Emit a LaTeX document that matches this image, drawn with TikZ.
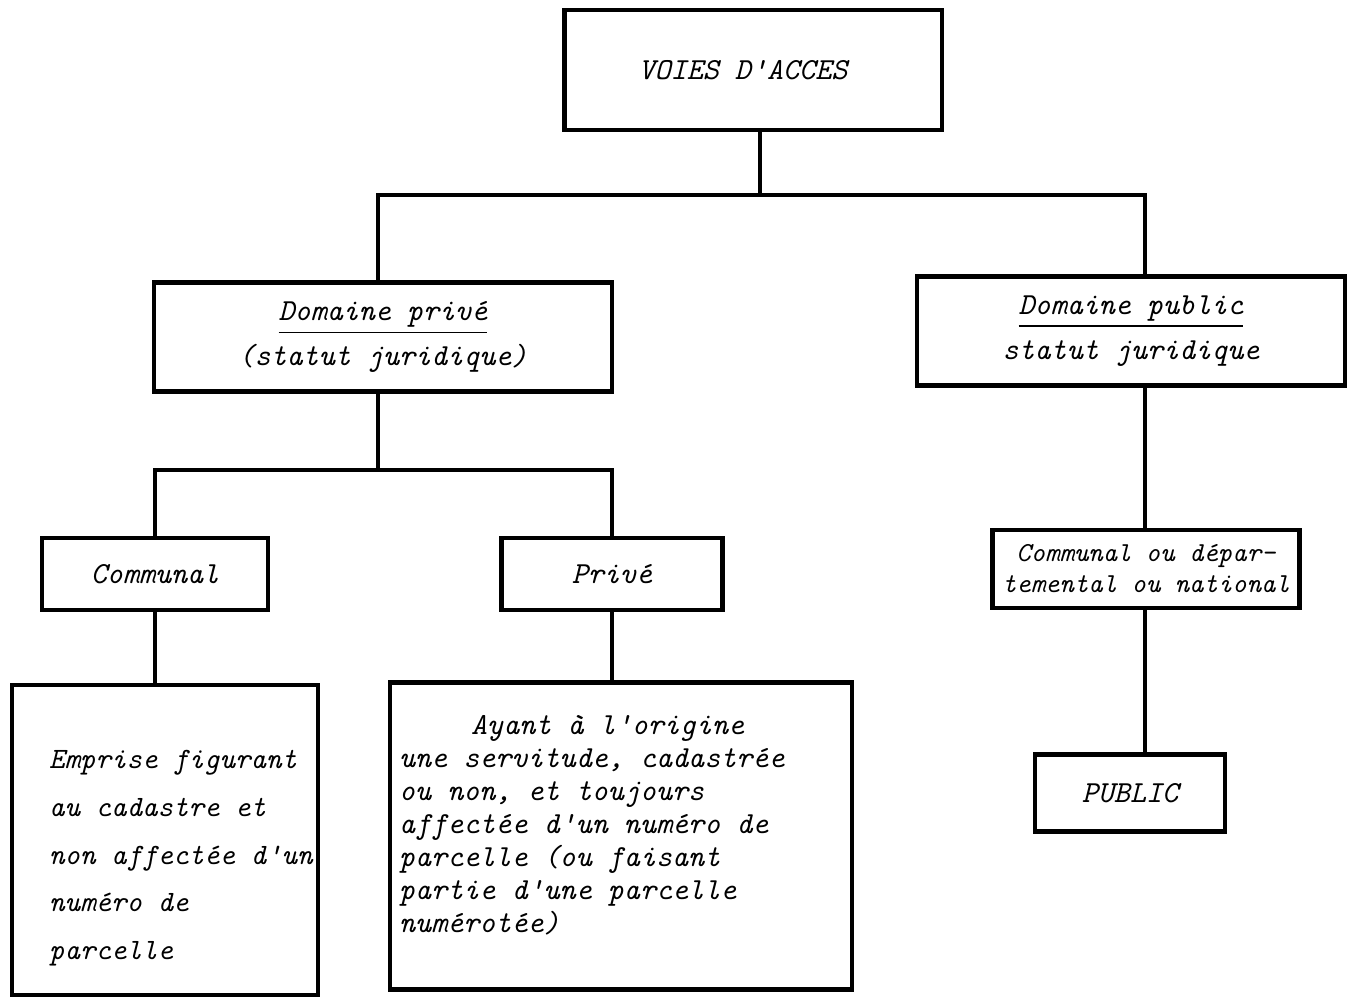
\documentclass[tikz,border=0pt]{standalone}
\usetikzlibrary{positioning, calc}

\tikzset{
  box/.style={draw, line width=1.2pt, rectangle, inner sep=0pt},
  txt/.style={font=\fontsize{8.7}{12.8}\selectfont\ttfamily\itshape, align=center, inner sep=0pt},
}

\begin{document}
\begin{tikzpicture}[x=0.01cm, y=-0.01cm, line width=1.2pt]
\useasboundingbox (0,0) rectangle (1348,999);

% boxes
\node[box, txt, minimum width=3.77cm, minimum height=1.2cm] (voies) at (753,70) {VOIES D'ACCES\hspace*{0.2cm}};
\node[box, txt, minimum width=4.57cm, minimum height=1.09cm] (dprive) at (383,337) {\underline{Domaine privé}\\(statut juridique)};
\node[box, txt, minimum width=4.28cm, minimum height=1.09cm] (dpublic) at (1131,331) {\underline{Domaine public}\\statut juridique};
\node[box, txt, minimum width=2.26cm, minimum height=0.72cm] (communal) at (155,574) {Communal};
\node[box, txt, minimum width=2.21cm, minimum height=0.72cm] (prive) at (612,574) {Privé};
\node[box, txt, font=\fontsize{7.8}{8.8}\selectfont\ttfamily\itshape, minimum width=3.07cm, minimum height=0.78cm] (cdn) at (1146,569) {Communal ou dépar-\\temental ou national};
\node[box, txt, minimum width=1.90cm, minimum height=0.77cm] (public) at (1130,793) {PUBLIC};
\node[box, minimum width=3.06cm, minimum height=3.10cm] (emprise) at (165,840) {};
\node[box, minimum width=4.62cm, minimum height=3.07cm] (ayant) at (621,836) {};

% texts of the large boxes
\node[txt, align=left, anchor=north west, font=\fontsize{8.4}{13.6}\selectfont\ttfamily\itshape] (emprisetxt) at (47,748)
  {Emprise figurant\\au cadastre et\\non affectée d'un\\numéro de\\parcelle};
\node[txt, align=left, anchor=north west, font=\fontsize{8.7}{9.4}\selectfont\ttfamily\itshape] (ayanttxt) at (397,713)
  {\hspace*{0.72cm}Ayant à l'origine\\une servitude, cadastrée\\ou non, et toujours\\affectée d'un numéro de\\parcelle (ou faisant\\partie d'une parcelle\\numérotée)};

% connectors
\coordinate (top) at (760,195);
\coordinate (mid) at (378,470);
\coordinate (pub) at (1145,0);

\draw (voies.south -| top) -- (top);
\draw (dprive.north -| mid) |- (top) -| (pub |- dpublic.north);
\draw (dprive.south -| mid) -- (mid);
\draw (communal.north) |- (mid) -| (prive.north);
\draw (communal.south) -- (emprise.north -| communal.south);
\draw (prive.south) -- (ayant.north -| prive.south);
\draw (pub |- dpublic.south) -- (pub |- cdn.north);
\draw (pub |- cdn.south) -- (pub |- public.north);
\end{tikzpicture}
\end{document}
